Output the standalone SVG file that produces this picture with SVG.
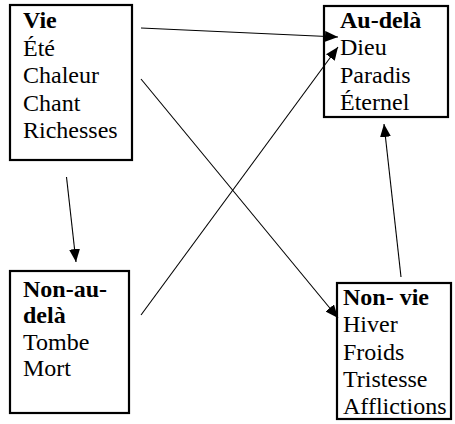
<svg xmlns="http://www.w3.org/2000/svg" width="455" height="424" viewBox="0 0 455 424">
<style>
.box{fill:#fff;stroke:#000;stroke-width:2.2}
text{font-family:"Liberation Serif","Times New Roman",serif;font-size:24px;fill:#000}
.b{font-weight:bold}
.conn line{stroke:#000;stroke-width:1.1;marker-end:url(#ah)}
</style>
<defs>
<marker id="ah" markerUnits="userSpaceOnUse" markerWidth="14" markerHeight="11" refX="13" refY="5.5" orient="auto">
<path d="M0,0 L13,5.5 L0,11 z" fill="#000"/>
</marker>
</defs>
<rect width="455" height="424" fill="#fff"/>
<g id="vie">
<rect class="box" x="10" y="5" width="122" height="155"/>
<text x="23" y="28" class="b">Vie</text>
<text x="23" y="55.5">Été</text>
<text x="23" y="83">Chaleur</text>
<text x="23" y="110.5">Chant</text>
<text x="23" y="138">Richesses</text>
</g>
<g id="au-dela">
<rect class="box" x="324" y="6" width="124" height="111"/>
<text x="340" y="27.5" class="b">Au-delà</text>
<text x="340" y="55">Dieu</text>
<text x="340" y="82.5">Paradis</text>
<text x="340" y="110">Éternel</text>
</g>
<g id="non-au-dela">
<rect class="box" x="10" y="271" width="119" height="142"/>
<text x="23" y="297" class="b">Non-au-</text>
<text x="23" y="323" class="b">delà</text>
<text x="23" y="349.5">Tombe</text>
<text x="23" y="376">Mort</text>
</g>
<g id="non-vie">
<rect class="box" x="337" y="283" width="114" height="136"/>
<text x="343" y="305" class="b">Non- vie</text>
<text x="343" y="332">Hiver</text>
<text x="343" y="359.5">Froids</text>
<text x="343" y="387">Tristesse</text>
<text x="343" y="414">Afflictions</text>
</g>
<g id="connectors" class="conn">
<line x1="141" y1="28" x2="338" y2="37"/>
<line x1="141" y1="79" x2="338" y2="318"/>
<line x1="66.5" y1="177" x2="76" y2="262"/>
<line x1="141" y1="315" x2="338" y2="47"/>
<line x1="401" y1="277" x2="384" y2="124"/>
</g>
</svg>
